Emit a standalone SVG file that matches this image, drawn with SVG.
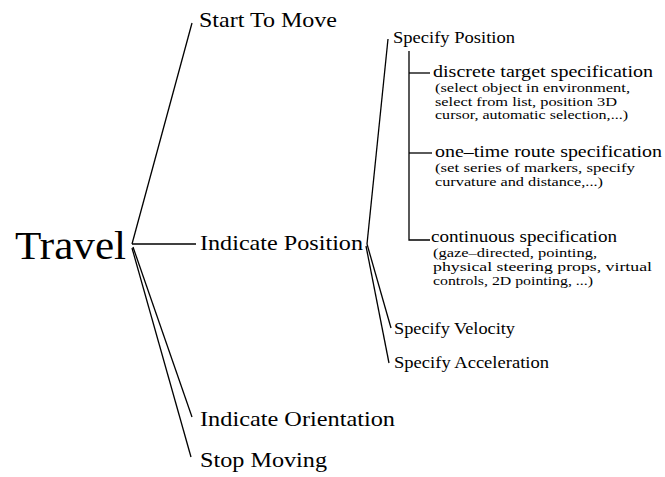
<svg xmlns="http://www.w3.org/2000/svg" width="665" height="477" viewBox="0 0 665 477">
<style>
text{font-family:"Liberation Serif","Times New Roman",serif;fill:#000}
.l{fill:none;stroke:#000;stroke-width:1.3}
.big{font-size:41px}
.m{font-size:21px}
.s{font-size:16px}
.xs{font-size:13px}
</style>
<rect width="665" height="477" fill="#fff"/>
<g id="connectors">
<path class="l" d="M132,244 L192,23"/>
<path class="l" d="M132,244 L196,244"/>
<path class="l" d="M133,247 L192,417"/>
<path class="l" d="M132,248 L191,457"/>
<path class="l" d="M367,244 L388,39"/>
<path class="l" d="M367,244 L391,328"/>
<path class="l" d="M366,246 L389,363"/>
<path class="l" d="M409,51 L409,240 L430,240"/>
<path class="l" d="M409,73 L430,73"/>
<path class="l" d="M409,153 L432,153"/>
</g>
<g id="travel"><text class="big" x="15" y="259" textLength="111" lengthAdjust="spacingAndGlyphs">Travel</text></g>
<g id="start"><text class="m" x="199" y="27" textLength="138" lengthAdjust="spacingAndGlyphs">Start To Move</text></g>
<g id="indicate-position"><text class="m" x="200" y="250" textLength="163" lengthAdjust="spacingAndGlyphs">Indicate Position</text></g>
<g id="indicate-orientation"><text class="m" x="200" y="426" textLength="195" lengthAdjust="spacingAndGlyphs">Indicate Orientation</text></g>
<g id="stop"><text class="m" x="200" y="467" textLength="127" lengthAdjust="spacingAndGlyphs">Stop Moving</text></g>
<g id="specify-position"><text class="s" x="393" y="43" textLength="122" lengthAdjust="spacingAndGlyphs">Specify Position</text></g>
<g id="discrete">
<text class="s" x="433" y="77" textLength="220" lengthAdjust="spacingAndGlyphs">discrete target specification</text>
<text class="xs" x="435" y="92" textLength="195" lengthAdjust="spacingAndGlyphs">(select object in environment,</text>
<text class="xs" x="435" y="105.5" textLength="182" lengthAdjust="spacingAndGlyphs">select from list, position 3D</text>
<text class="xs" x="435" y="119" textLength="193" lengthAdjust="spacingAndGlyphs">cursor, automatic selection,...)</text>
</g>
<g id="one-time">
<text class="s" x="435" y="157" textLength="227" lengthAdjust="spacingAndGlyphs">one–time route specification</text>
<text class="xs" x="435" y="172" textLength="200" lengthAdjust="spacingAndGlyphs">(set series of markers, specify</text>
<text class="xs" x="435" y="186" textLength="168" lengthAdjust="spacingAndGlyphs">curvature and distance,...)</text>
</g>
<g id="continuous">
<text class="s" x="431" y="242" textLength="186" lengthAdjust="spacingAndGlyphs">continuous specification</text>
<text class="xs" x="433" y="257" textLength="164" lengthAdjust="spacingAndGlyphs">(gaze–directed, pointing,</text>
<text class="xs" x="433" y="271" textLength="219" lengthAdjust="spacingAndGlyphs">physical steering props, virtual</text>
<text class="xs" x="433" y="285" textLength="160" lengthAdjust="spacingAndGlyphs">controls, 2D pointing, ...)</text>
</g>
<g id="specify-velocity"><text class="s" x="394" y="334" textLength="121" lengthAdjust="spacingAndGlyphs">Specify Velocity</text></g>
<g id="specify-acceleration"><text class="s" x="394" y="368" textLength="155" lengthAdjust="spacingAndGlyphs">Specify Acceleration</text></g>
</svg>
